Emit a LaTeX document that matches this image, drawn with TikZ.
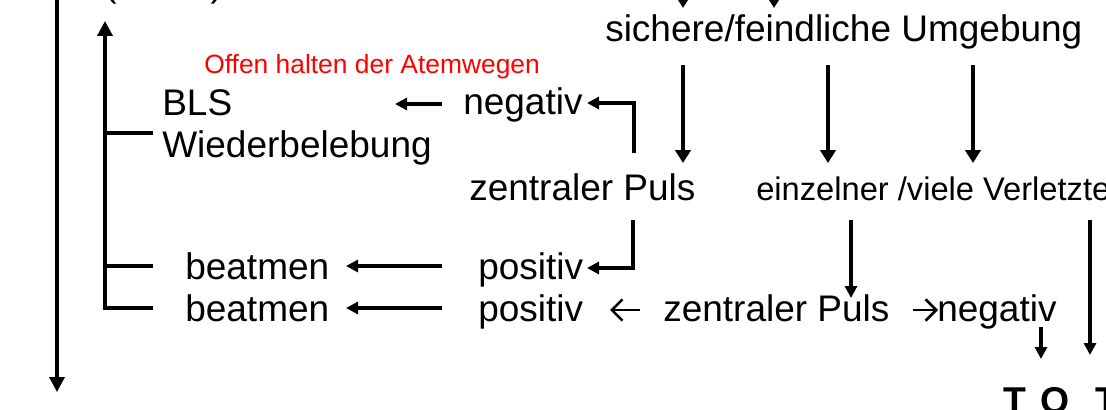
\documentclass[tikz,border=0pt]{standalone}
\usepackage{fontspec}
\setmainfont{Liberation Sans}
\usetikzlibrary{arrows.meta}
\begin{document}
\begin{tikzpicture}[x=0.75pt,y=-0.75pt,
  txt/.style={anchor=base west,inner sep=0pt,font=\fontsize{27.75}{30}\selectfont},
  smalltxt/.style={anchor=base west,inner sep=0pt,font=\fontsize{24.5}{28}\selectfont},
  redtxt/.style={anchor=base west,inner sep=0pt,text=red,font=\fontsize{19.8}{22}\selectfont},
  tottxt/.style={anchor=base west,inner sep=0pt,font=\fontsize{28}{30}\selectfont\bfseries},
  plainline/.style={line width=2.6pt},
  bigconn/.style={line width=2.6pt,-{Triangle[length=11.25pt,width=11.25pt]}},
  conn/.style={line width=2.6pt,-{Triangle[length=9.75pt,width=11.5pt]}},
  smallconn/.style={line width=2.6pt,-{Triangle[length=9pt,width=9pt]}},
  glyph/.style={line width=1.9pt,-{Straight Barb[length=8pt,width=16pt]}}
]
\useasboundingbox (0,0) rectangle (1106,410);
\clip (0,0) rectangle (1106,410);

% texts
\node[txt] (par) at (104,-3) {(\hspace{70.5pt})};
\node[txt] (sfu) at (605,42) {sichere/feindliche Umgebung};
\node[redtxt] (atem) at (204,74) {Offen halten der Atemwegen};
\node[txt] (bls) at (162,115) {BLS};
\node[txt] (wieder) at (162,157) {Wiederbelebung};
\node[txt] (neg1) at (463,114) {negativ};
\node[txt] (zp1) at (469,200) {zentraler Puls};
\node[smalltxt] (evv) at (756,200) {einzelner /viele Verletzte};
\node[txt] (beat1) at (185,279) {beatmen};
\node[txt] (beat2) at (185,321) {beatmen};
\node[txt] (pos1) at (478,279) {positiv};
\node[txt] (pos2) at (478,321) {positiv};
\node[txt] (zp2) at (663,321) {zentraler Puls};
\node[txt] (neg2) at (937,321) {negativ};
\node[tottxt] (tot) at (1003,413) {T\hspace{10.5pt}O\hspace{19.5pt}T};

% coordinates
\coordinate (topL) at (57,-20);
\coordinate (botL) at (57,392);
\coordinate (upTip) at (105,21);
\coordinate (upBot) at (105,308);
\coordinate (brW) at (153,133);
\coordinate (brB1) at (153,266);
\coordinate (brB2) at (153,308);
\coordinate (in1) at (683,-30);
\coordinate (in1t) at (683,8);
\coordinate (in2) at (774,-30);
\coordinate (in2t) at (774,8);

% left long arrow
\draw[bigconn] (topL) -- (botL);
% up arrow with branches
\draw[bigconn] (brB2) -- (upBot) -- (upTip);
\draw[plainline] (upTip |- brW) -- (brW);
\draw[plainline] (upTip |- brB1) -- (brB1);

% arrows entering from above
\draw[conn] (in1) -- (in1t);
\draw[conn] (in2) -- (in2t);

% from sichere/feindliche Umgebung
\draw[conn] (683,65) -- (683,163);
\draw[conn] (828,65) -- (828,163);
\draw[conn] (973,65) -- (973,163);

% zentraler Puls -> negativ (elbow)
\draw[smallconn] (634,153) -- (634,103) -- (587,103);
% negativ -> BLS
\draw[smallconn] (442,104) -- (395,104);

% zentraler Puls -> positiv (elbow)
\draw[smallconn] (633,220) -- (633,268) -- (587,268);
% positiv -> beatmen
\draw[smallconn] (442,266) -- (346,266);
\draw[smallconn] (442,308) -- (346,308);

% glyph arrows in the second row
\draw[glyph] (640,310) -- (610,310);
\draw[glyph] (913,310) -- (938,310);

% einzelner/viele -> zentraler Puls
\draw[smallconn] (851,220) -- (851,298);
% right long arrow to TOT
\draw[smallconn] (1090,220) -- (1090,355);
% negativ -> TOT
\draw[smallconn] (1041,327) -- (1041,359);
\end{tikzpicture}
\end{document}
